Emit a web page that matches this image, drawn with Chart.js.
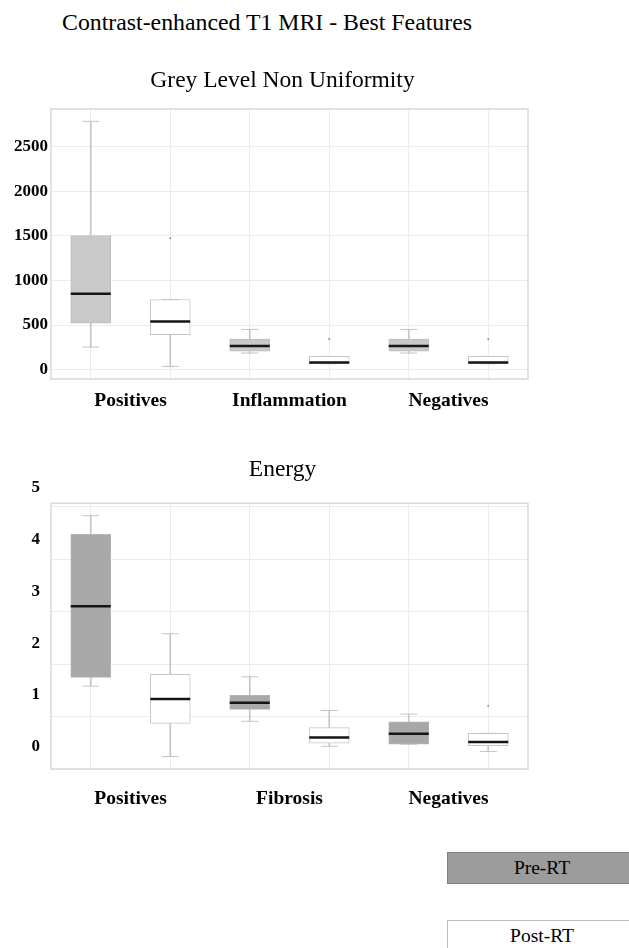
<!DOCTYPE html>
<html>
<head>
<meta charset="utf-8">
<script src="https://cdn.jsdelivr.net/npm/chart.js@4/dist/chart.umd.min.js"></script>
<style>
html,body{margin:0;padding:0;background:#fff;overflow:hidden;width:629px;height:948px;}
body{position:relative;font-family:'Liberation Serif','Times New Roman',serif;color:#000;}
#mainTitle{position:absolute;left:0;top:9px;width:534px;text-align:center;font-size:23.8px;line-height:26px;white-space:nowrap;}
canvas{position:absolute;left:0;}
#c1{top:50px;}
#c2{top:440px;}
.leg{position:absolute;left:447px;width:190px;height:32px;box-sizing:border-box;text-align:center;font-size:19.5px;line-height:30px;}
#legPre{top:852px;background:#9c9c9c;border:1px solid #808080;}
#legPost{top:920px;background:#fff;border:1px solid #bdbdbd;}
</style>
</head>
<body>
<div id="mainTitle">Contrast-enhanced T1 MRI - Best Features</div>
<canvas id="c1" width="565" height="369"></canvas>
<canvas id="c2" width="565" height="369"></canvas>
<div class="leg" id="legPre">Pre-RT</div>
<div class="leg" id="legPost">Post-RT</div>
<script>
// ---------- Data ----------
const seriesNames = ['Pre-RT', 'Post-RT'];

// Grey Level Non Uniformity
const glnuCategories = ['Positives', 'Inflammation', 'Negatives'];
const glnuTicks = [0, 500, 1000, 1500, 2000, 2500];
const glnuPreMin    = [254, 187, 187];
const glnuPreQ1     = [522, 209, 209];
const glnuPreMedian = [851, 265, 265];
const glnuPreQ3     = [1504, 343, 343];
const glnuPreMax    = [2784, 451, 451];
const glnuPostMin    = [37, 67, 67];
const glnuPostQ1     = [392, 67, 67];
const glnuPostMedian = [541, 82, 82];
const glnuPostQ3     = [787, 149, 149];
const glnuPostMax    = [787, 149, 149];
const glnuPostOutliers = [1474, 343, 343];

// Energy
const energyCategories = ['Positives', 'Fibrosis', 'Negatives'];
const energyTicks = [0, 1, 2, 3, 4, 5];
const energyPreMin    = [1.17, 0.49, 0.05];
const energyPreQ1     = [1.34, 0.72, 0.05];
const energyPreMedian = [2.71, 0.85, 0.25];
const energyPreQ3     = [4.10, 0.99, 0.48];
const energyPreMax    = [4.46, 1.35, 0.63];
const energyPostMin    = [-0.19, 0.01, -0.09];
const energyPostQ1     = [0.45, 0.07, 0.02];
const energyPostMedian = [0.92, 0.18, 0.09];
const energyPostQ3     = [1.40, 0.37, 0.26];
const energyPostMax    = [2.18, 0.70, 0.26];
const energyPostOutliers = [null, null, 0.79];

// ---------- Helpers ----------
Chart.defaults.font.family = "'Liberation Serif','Times New Roman',serif";
const slot = (arr, side) => arr.flatMap(v => side === 0 ? [v, null] : [null, v]);
const pairs = (a, b) => a.map((v, i) => [v, b[i]]);
const xLabelsOf = cats => cats.flatMap(c => [c, '']);
const AX = {xAxisID: 'x', yAxisID: 'y'};

function buildDatasets(pre, post, style) {
  const sides = [
    {name: seriesNames[0], side: 0, d: pre, fill: style.preFill, border: style.preBorder},
    {name: seriesNames[1], side: 1, d: post, fill: '#ffffff', border: style.postBorder}
  ];
  const ds = [];
  sides.forEach(s => ds.push({...AX,
    type: 'line', label: s.name + ' median', data: slot(s.d.med, s.side), showLine: false,
    pointStyle: 'line', pointRadius: 20, pointHoverRadius: 20, pointBorderWidth: 2.5,
    pointBorderColor: '#151515', pointBackgroundColor: '#151515'
  }));
  sides.forEach(s => { if (s.d.out) ds.push({...AX,
    type: 'line', label: s.name + ' outliers', data: slot(s.d.out, s.side), showLine: false,
    pointStyle: 'circle', pointRadius: 1, pointHoverRadius: 1, pointBorderWidth: 0,
    pointBackgroundColor: '#8a8a8a', pointBorderColor: '#8a8a8a'
  }); });
  sides.forEach(s => ds.push({...AX,
    type: 'bar', label: s.name, data: slot(pairs(s.d.q1, s.d.q3), s.side),
    backgroundColor: s.fill, borderColor: s.border, borderWidth: 1, borderSkipped: false,
    barThickness: 40, grouped: false
  }));
  sides.forEach(s => ['min', 'max'].forEach(k => ds.push({...AX,
    type: 'line', label: s.name + ' ' + k, data: slot(s.d[k], s.side), showLine: false,
    pointStyle: 'line', pointRadius: 8.5, pointHoverRadius: 8.5, pointBorderWidth: 1,
    pointBorderColor: style.whisker, pointBackgroundColor: style.whisker
  })));
  sides.forEach(s => ds.push({...AX,
    type: 'bar', label: s.name + ' whisker', data: slot(pairs(s.d.min, s.d.max), s.side),
    backgroundColor: style.whisker, borderWidth: 0, barThickness: 1, grouped: false
  }));
  return ds;
}

const framePlugin = {
  id: 'frame',
  beforeDatasetsDraw(chart) {
    const {ctx, chartArea: a} = chart;
    ctx.save();
    ctx.strokeStyle = '#d8d8d8';
    ctx.lineWidth = 1.5;
    ctx.strokeRect(a.left, a.top, a.right - a.left, a.bottom - a.top);
    ctx.restore();
  }
};

function baseOptions(title, padTop, padBottom, xPad) {
  return {
    responsive: false, animation: false, events: [],
    layout: {padding: 0},
    plugins: {
      legend: {display: false}, tooltip: {enabled: false},
      title: {display: true, text: title, color: '#000',
        font: {size: 23.5, weight: 'normal', lineHeight: 1.2},
        padding: {top: padTop, bottom: padBottom}}
    },
    scales: {
      x: {
        type: 'category', offset: true,
        grid: {offset: false, color: '#ececec', drawTicks: false},
        border: {display: false},
        ticks: {autoSkip: false, maxRotation: 0, minRotation: 0, labelOffset: 39.75,
          padding: xPad, color: '#000', font: {size: 19.5, weight: 'bold'}},
        afterFit(s) { s.height = 40; }
      }
    }
  };
}
// empty right margin (keeps the titles centred on the whole canvas)
const rightMargin = {
  type: 'linear', position: 'right',
  ticks: {display: false}, grid: {display: false}, border: {display: false},
  afterFit(s) { s.width = 37; }
};

// ---------- Chart 1 ----------
const opt1 = baseOptions('Grey Level Non Uniformity', 16.3, 14.5, 10.3);
opt1.scales.y = {
  position: 'left', min: -104, max: 2922,
  grid: {color: '#ececec', drawTicks: false}, border: {display: false},
  afterBuildTicks(s) { s.ticks = glnuTicks.map(v => ({value: v})); },
  ticks: {padding: 3, color: '#000', font: {size: 17, weight: 'bold'}, callback: v => String(v)},
  afterFit(s) { s.width = 51; }
};
opt1.scales.rightMargin = rightMargin;
new Chart(document.getElementById('c1'), {
  type: 'bar',
  data: {
    labels: xLabelsOf(glnuCategories),
    datasets: buildDatasets(
      {min: glnuPreMin, q1: glnuPreQ1, med: glnuPreMedian, q3: glnuPreQ3, max: glnuPreMax},
      {min: glnuPostMin, q1: glnuPostQ1, med: glnuPostMedian, q3: glnuPostQ3, max: glnuPostMax, out: glnuPostOutliers},
      {preFill: '#c9c9c9', preBorder: '#bdbdbd', postBorder: '#c6c6c6', whisker: '#c4c4c4'})
  },
  options: opt1,
  plugins: [framePlugin]
});

// ---------- Chart 2 ----------
const opt2 = baseOptions('Energy', 15.3, 19.8, 18);
opt2.scales.y = {
  position: 'left', min: -0.43, max: 4.70,
  grid: {display: false}, border: {display: false},
  afterBuildTicks(s) { s.ticks = energyTicks.map(v => ({value: v})); },
  ticks: {padding: 3, color: '#000', font: {size: 17, weight: 'bold'}, callback: v => String(v)},
  afterFit(s) { s.width = 51; }
};
opt2.scales.yGrid = {
  type: 'linear', position: 'left', min: 0, max: 5.065,
  ticks: {display: false, stepSize: 1, includeBounds: false},
  grid: {color: '#ececec', drawTicks: false}, border: {display: false},
  afterFit(s) { s.width = 0; }
};
opt2.scales.rightMargin = rightMargin;
new Chart(document.getElementById('c2'), {
  type: 'bar',
  data: {
    labels: xLabelsOf(energyCategories),
    datasets: buildDatasets(
      {min: energyPreMin, q1: energyPreQ1, med: energyPreMedian, q3: energyPreQ3, max: energyPreMax},
      {min: energyPostMin, q1: energyPostQ1, med: energyPostMedian, q3: energyPostQ3, max: energyPostMax, out: energyPostOutliers},
      {preFill: '#a8a8a8', preBorder: '#b4b4b4', postBorder: '#c6c6c6', whisker: '#c4c4c4'})
  },
  options: opt2,
  plugins: [framePlugin]
});
</script>
</body>
</html>
